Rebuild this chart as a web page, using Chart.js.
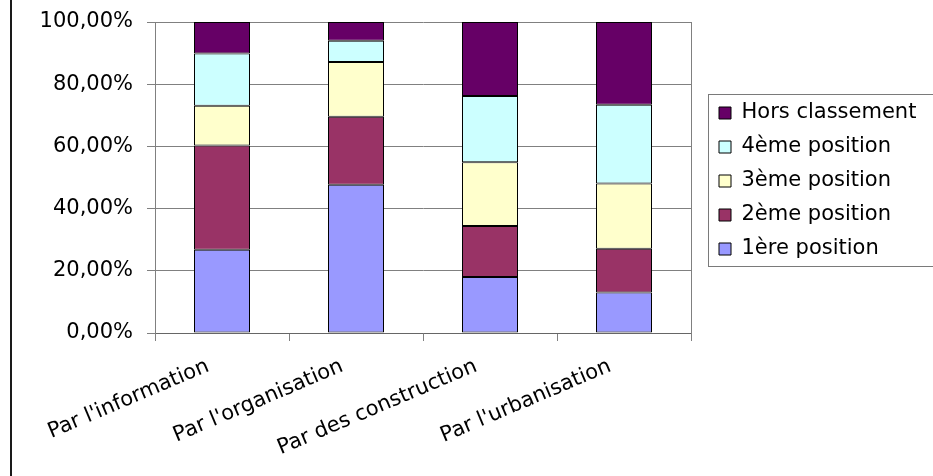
<!DOCTYPE html>
<html>
<head>
<meta charset="utf-8">
<script src="https://cdn.jsdelivr.net/npm/chart.js@4.4.1/dist/chart.umd.min.js"></script>
<style>
  html, body { margin: 0; padding: 0; background: #fff; }
  canvas { display: block; }
</style>
</head>
<body>
<canvas id="chart" width="933" height="476"></canvas>
<script>
// categories and values (percent)
const categories = ["Par l'information", "Par l'organisation", "Par des construction", "Par l'urbanisation"];
const seriesNames = ['1ère position', '2ème position', '3ème position', '4ème position', 'Hors classement'];
const premiere = [26.8, 47.7, 18.0, 13.0];
const deuxieme = [33.5, 21.8, 16.4, 14.1];
const troisieme = [12.8, 17.6, 20.5, 21.0];
const quatrieme = [16.8, 6.9, 21.3, 25.3];
const hors = [10.1, 6.0, 23.8, 26.6];
const yTicks = [0, 20, 40, 60, 80, 100];

const colors = ['#9999FF', '#993366', '#FFFFCC', '#CCFFFF', '#660066'];
const gridColor = '#808080';
const font = { family: "'DejaVu Sans', sans-serif", size: 21 };

const values = [premiere, deuxieme, troisieme, quatrieme, hors];
const datasets = seriesNames.map((name, i) => ({
  label: name,
  data: values[i],
  backgroundColor: colors[i],
  borderColor: '#000',
  borderWidth: 1,
  borderSkipped: false,
  barPercentage: 56 / 134,
  categoryPercentage: 1
}));

// white background, left frame line, plot frame on the right, legend box
const frames = {
  id: 'frames',
  beforeDraw(chart) {
    const ctx = chart.ctx;
    ctx.save();
    ctx.fillStyle = '#fff';
    ctx.fillRect(0, 0, chart.width, chart.height);
    ctx.fillStyle = '#1a1a1a';
    ctx.fillRect(10, 0, 2, chart.height);
    ctx.restore();
  },
  beforeDatasetsDraw(chart) {
    const a = chart.chartArea;
    const ctx = chart.ctx;
    ctx.save();
    ctx.strokeStyle = gridColor;
    ctx.lineWidth = 1;
    ctx.beginPath();
    const x = Math.round(a.right) + 0.5;
    ctx.moveTo(x, a.top);
    ctx.lineTo(x, a.bottom + 8);
    ctx.stroke();
    ctx.restore();
  },
  afterDraw(chart) {
    const boxes = chart.legend.legendHitBoxes;
    if (!boxes || !boxes.length) return;
    const first = boxes[0];
    const last = boxes[boxes.length - 1];
    const ctx = chart.ctx;
    ctx.save();
    ctx.strokeStyle = '#7a7a7a';
    ctx.lineWidth = 1;
    const top = Math.round(first.top) - 8.5;
    const bottom = Math.round(last.top + last.height) + 6.5;
    ctx.strokeRect(Math.round(first.left) - 10.5, top, 300, bottom - top);
    ctx.restore();
  }
};

new Chart(document.getElementById('chart'), {
  type: 'bar',
  data: { labels: categories, datasets: datasets },
  plugins: [frames],
  options: {
    responsive: false,
    animation: false,
    layout: { padding: { left: 0, top: 22, right: 15, bottom: 0 } },
    plugins: {
      tooltip: { enabled: false },
      legend: {
        position: 'right',
        fullSize: false,
        reverse: true,
        maxWidth: 212,
        // empty title, only nudges the centred items down a little
        title: { display: true, text: '', padding: 0, font: { size: 7, lineHeight: 1 } },
        labels: {
          font: font,
          color: '#000',
          boxWidth: 12,
          boxHeight: 12,
          padding: 13
        }
      }
    },
    scales: {
      x: {
        stacked: true,
        grid: { offset: true, drawOnChartArea: false, drawTicks: true, tickLength: 8, color: gridColor },
        border: { color: '#666', width: 1 },
        ticks: { font: font, color: '#000', minRotation: 23, maxRotation: 23, padding: 13, labelOffset: -14 },
        afterFit: s => { s.height = 143; }
      },
      y: {
        stacked: true,
        min: 0,
        max: 100,
        grid: { color: gridColor, tickLength: 8 },
        border: { color: gridColor },
        ticks: {
          font: font,
          color: '#000',
          padding: 14,
          callback: v => v.toFixed(2).replace('.', ',') + '%'
        },
        afterBuildTicks: s => { s.ticks = yTicks.map(v => ({ value: v })); },
        afterFit: s => {
          s.width = 155;
          s.paddingTop = 12;
          s.paddingBottom = 12;
        }
      },
      // hidden right axis: only keeps the gap between plot and legend
      right: {
        type: 'linear',
        position: 'right',
        display: false,
        min: 0,
        max: 100,
        afterFit: s => { s.width = 15; }
      }
    }
  }
});
</script>
</body>
</html>
